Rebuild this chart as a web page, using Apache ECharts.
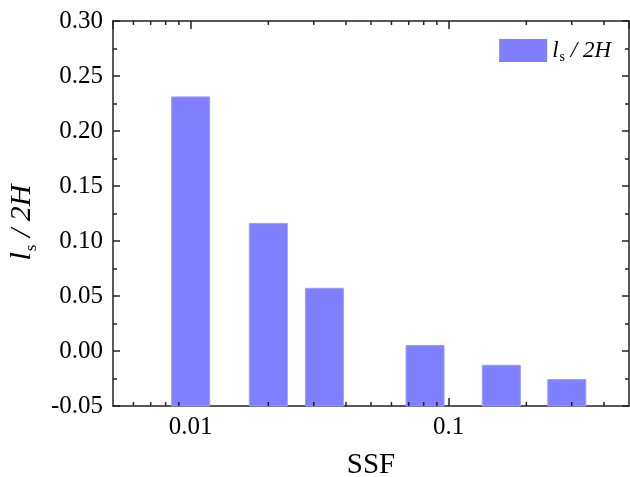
<!DOCTYPE html>
<html>
<head>
<meta charset="utf-8">
<script src="https://cdn.jsdelivr.net/npm/echarts@6/dist/echarts.min.js"></script>
<style>html,body{margin:0;padding:0;background:#fff;overflow:hidden}#c{width:630px;height:477px}</style>
</head>
<body>
<div id="c"></div>
<script>
// Data
var ssf = [0.01, 0.02, 0.033, 0.081, 0.16, 0.287];
var lsOver2H = [0.231, 0.116, 0.057, 0.005, -0.013, -0.026];
var xMin = 0.005, xMax = 0.5;
var yMin = -0.05, yMax = 0.30, yStep = 0.05;
var xMinorTickValues = [0.006, 0.007, 0.008, 0.009, 0.02, 0.03, 0.04, 0.05, 0.06, 0.07, 0.08, 0.09, 0.2, 0.3, 0.4];

var FONT = '"Liberation Serif", "Times New Roman", serif';
var AX = '#222';
var BAR = '#8080ff';

var chart = echarts.init(document.getElementById('c'), null, {renderer: 'canvas'});

var barData = ssf.map(function (x, i) { return [x, lsOver2H[i]]; });
var tickData = xMinorTickValues.map(function (x) { return [x, yMin]; });

var ylabelRich = {
  i: {fontFamily: FONT, fontStyle: 'italic', fontSize: 30, color: '#000', lineHeight: 36, verticalAlign: 'middle'},
  s: {fontFamily: FONT, fontSize: 17, color: '#000', lineHeight: 36, verticalAlign: 'bottom', padding: [0, 0, 0, 1]},
  n: {fontFamily: FONT, fontStyle: 'italic', fontSize: 30, color: '#000', lineHeight: 36, verticalAlign: 'middle'}
};
var legRich = {
  i: {fontFamily: FONT, fontStyle: 'italic', fontSize: 23, color: '#000', lineHeight: 28, verticalAlign: 'middle'},
  s: {fontFamily: FONT, fontSize: 14, color: '#000', lineHeight: 28, verticalAlign: 'bottom', padding: [0, 0, 0, 1]},
  n: {fontFamily: FONT, fontStyle: 'italic', fontSize: 23, color: '#000', lineHeight: 28, verticalAlign: 'middle'}
};

var option = {
  backgroundColor: '#fff',
  animation: false,
  grid: {left: 113, right: 1, top: 21, bottom: 71, containLabel: false, outerBoundsMode: 'none'},
  legend: {
    data: ['ls2H'],
    right: 14, top: 34,
    itemWidth: 48, itemHeight: 23, itemGap: 12,
    icon: 'rect',
    formatter: function () { return '{i|l}{s|s}{n| / 2H}'; },
    textStyle: {rich: legRich}
  },
  xAxis: [{
    type: 'log', logBase: 10, min: xMin, max: xMax,
    name: 'SSF', nameLocation: 'middle', nameGap: 45,
    nameTextStyle: {fontFamily: FONT, fontSize: 29, color: '#000'},
    axisLine: {show: true, onZero: false, lineStyle: {color: AX, width: 1.5}},
    axisTick: {show: true, inside: true, length: 8, lineStyle: {color: AX, width: 1.5}},
    axisLabel: {show: true, showMinLabel: false, showMaxLabel: false, margin: 9,
      fontFamily: FONT, fontSize: 25, color: '#000',
      formatter: function (v) { return String(+v.toPrecision(3)); }},
    splitLine: {show: false}
  }, {
    type: 'log', logBase: 10, min: xMin, max: xMax, position: 'top',
    axisLine: {show: true, onZero: false, lineStyle: {color: AX, width: 1.5}},
    axisTick: {show: true, inside: true, length: 8, lineStyle: {color: AX, width: 1.5}},
    axisLabel: {show: false}, splitLine: {show: false}
  }],
  yAxis: [{
    type: 'value', min: yMin, max: yMax, interval: yStep,
    name: '{i|l}{s|s}{n| / 2H}', nameLocation: 'middle', nameGap: 72, nameRotate: 90,
    nameTextStyle: {rich: ylabelRich, padding: [0, 18, 0, 0]},
    axisLine: {show: true, onZero: false, lineStyle: {color: AX, width: 1.5}},
    axisTick: {show: true, inside: true, length: 7, lineStyle: {color: AX, width: 1.5}},
    minorTick: {show: true, splitNumber: 2, length: 4, lineStyle: {color: AX, width: 1.5}},
    axisLabel: {margin: 10, fontFamily: FONT, fontSize: 25, color: '#000',
      formatter: function (v) { return v.toFixed(2); }},
    splitLine: {show: false}, minorSplitLine: {show: false}
  }, {
    type: 'value', min: yMin, max: yMax, interval: yStep, position: 'right',
    axisLine: {show: true, onZero: false, lineStyle: {color: AX, width: 1.5}},
    axisTick: {show: true, inside: true, length: 7, lineStyle: {color: AX, width: 1.5}},
    minorTick: {show: true, splitNumber: 2, length: 4, lineStyle: {color: AX, width: 1.5}},
    axisLabel: {show: false}, splitLine: {show: false}
  }],
  series: [{
    name: 'ls2H',
    type: 'custom',
    xAxisIndex: 0, yAxisIndex: 0,
    data: barData,
    itemStyle: {color: BAR},
    z: 2,
    renderItem: function (params, api) {
      var top = api.coord([api.value(0), api.value(1)]);
      var base = api.coord([api.value(0), yMin]);
      var w = 38;
      return {
        type: 'rect',
        shape: {x: top[0] - w / 2, y: top[1], width: w, height: base[1] - top[1]},
        style: {fill: BAR, stroke: '#9c9cff', lineWidth: 1}
      };
    }
  }, {
    name: 'minorTicks',
    type: 'custom',
    xAxisIndex: 0, yAxisIndex: 0,
    data: tickData,
    z: 5,
    silent: true,
    renderItem: function (params, api) {
      var b = api.coord([api.value(0), yMin]);
      var t = api.coord([api.value(0), yMax]);
      var len = 4;
      return {
        type: 'group',
        children: [
          {type: 'line', shape: {x1: b[0], y1: b[1], x2: b[0], y2: b[1] - len}, style: {stroke: AX, lineWidth: 1.5}},
          {type: 'line', shape: {x1: t[0], y1: t[1], x2: t[0], y2: t[1] + len}, style: {stroke: AX, lineWidth: 1.5}}
        ]
      };
    }
  }]
};
chart.setOption(option);
</script>
</body>
</html>
